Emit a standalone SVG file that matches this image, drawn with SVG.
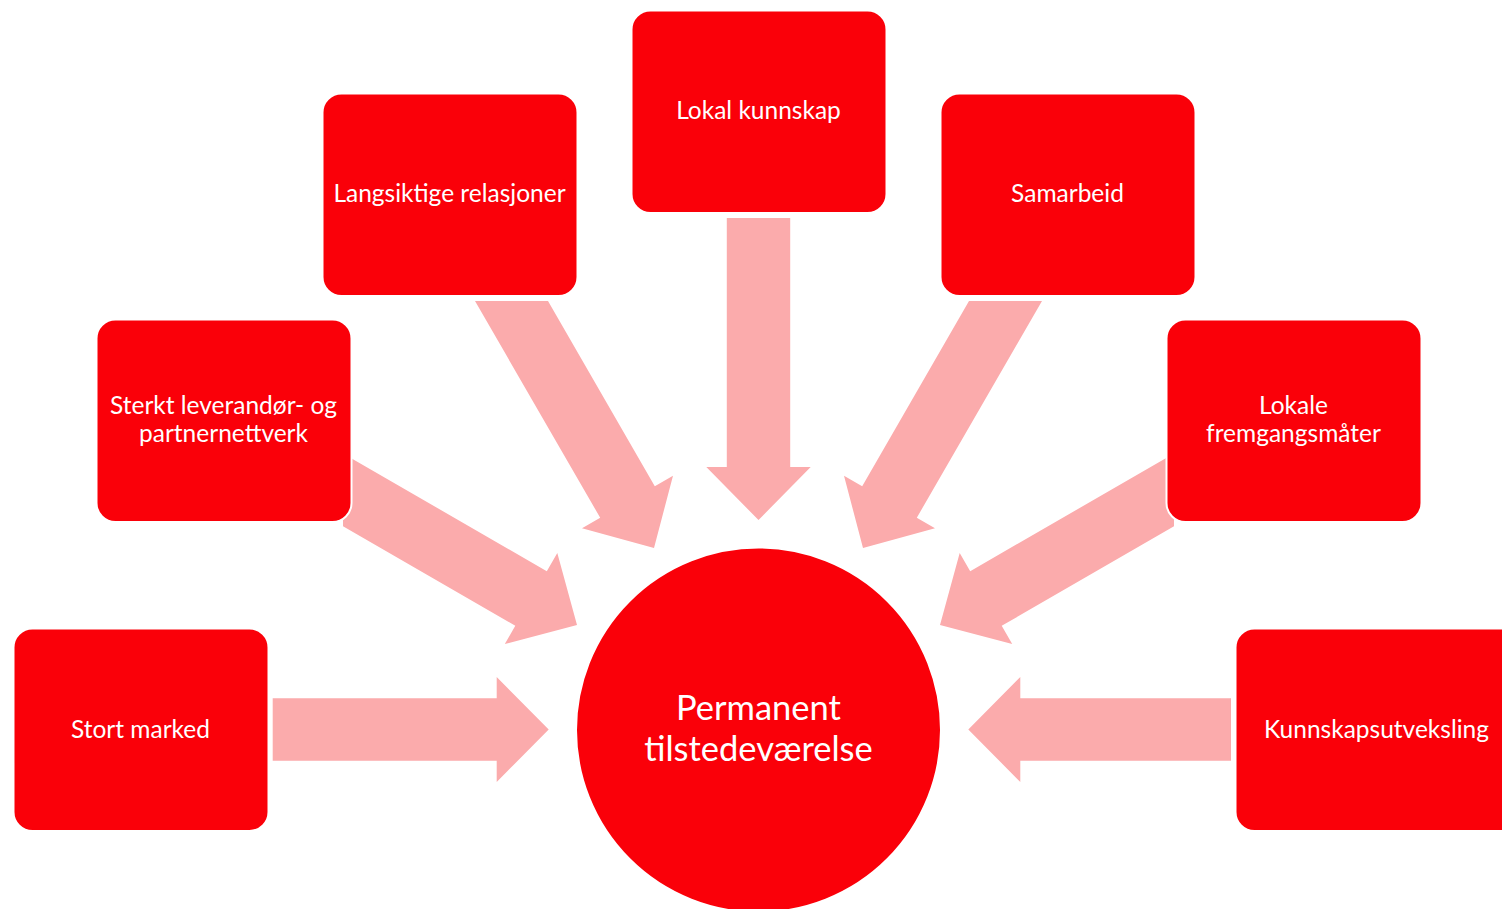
<svg xmlns="http://www.w3.org/2000/svg" width="1502" height="909" viewBox="0 0 1502 909">
<style>
.box{fill:#FA0009;stroke:#FFFFFF;stroke-width:2}
.arr{fill:#FBABAC}
.t{fill:#FFFFFF;font-family:Lato,"Open Sans","Liberation Sans",sans-serif;font-size:24.5px;text-anchor:middle}
.tc{fill:#FFFFFF;font-family:Lato,"Open Sans","Liberation Sans",sans-serif;font-size:34.5px;text-anchor:middle}
</style>
<rect width="1502" height="909" fill="#FFFFFF"/>
<g id="connectors">
<polygon class="arr" points="272.7,698.3 496.7,698.3 496.7,677 548.7,729.5 496.7,782 496.7,760.7 272.7,760.7"/>
<polygon class="arr" points="1231,698.3 1020.3,698.3 1020.3,677 968.3,729.5 1020.3,782 1020.3,760.7 1231,760.7"/>
<polygon class="arr" points="343,453.5 546.8,571.2 557.3,553 577,625 504.8,644 515.3,625.8 343,526.3"/>
<polygon class="arr" points="1174,453.5 970.2,571.2 959.7,553 940,625 1012.2,644 1001.7,625.8 1174,526.3"/>
<polygon class="arr" points="475,301 548,301 654.8,486.25 673,475.75 654,548 582,528.25 600.2,517.75"/>
<polygon class="arr" points="1042,301 969,301 862.2,486.25 844,475.75 863,548 935,528.25 916.8,517.75"/>
<polygon class="arr" points="726.8,218 790.2,218 790.2,467 810.7,467 758.5,520 706.3,467 726.8,467"/>
</g>
<g id="node-lokal-kunnskap">
<rect class="box" x="631.5" y="10.5" width="255" height="202.5" rx="19"/>
<text class="t" x="758.5" y="119">Lokal kunnskap</text>
</g>
<g id="node-langsiktige">
<rect class="box" x="322.5" y="93.5" width="255" height="202.5" rx="19"/>
<text class="t" x="449.5" y="202">Langsiktige relasjoner</text>
</g>
<g id="node-samarbeid">
<rect class="box" x="940.5" y="93.5" width="255" height="202.5" rx="19"/>
<text class="t" x="1067.5" y="202">Samarbeid</text>
</g>
<g id="node-sterkt">
<rect class="box" x="96.5" y="319.5" width="255" height="202.5" rx="19"/>
<text class="t" x="223.5" y="413.5">Sterkt leverandør- og</text>
<text class="t" x="223.5" y="442">partnernettverk</text>
</g>
<g id="node-lokale">
<rect class="box" x="1166.5" y="319.5" width="255" height="202.5" rx="19"/>
<text class="t" x="1293.5" y="413.5">Lokale</text>
<text class="t" x="1293.5" y="442">fremgangsmåter</text>
</g>
<g id="node-stort-marked">
<rect class="box" x="13.5" y="628.5" width="255" height="202.5" rx="19"/>
<text class="t" x="140.5" y="737.5">Stort marked</text>
</g>
<g id="node-kunnskapsutveksling">
<rect class="box" x="1235.5" y="628.5" width="290" height="202.5" rx="19"/>
<text class="t" x="1376.5" y="737.5">Kunnskapsutveksling</text>
</g>
<g id="node-permanent">
<circle class="box" cx="758.5" cy="730" r="182.5"/>
<text class="tc" x="758.5" y="720">Permanent</text>
<text class="tc" x="758.5" y="761">tilstedeværelse</text>
</g>
</svg>
